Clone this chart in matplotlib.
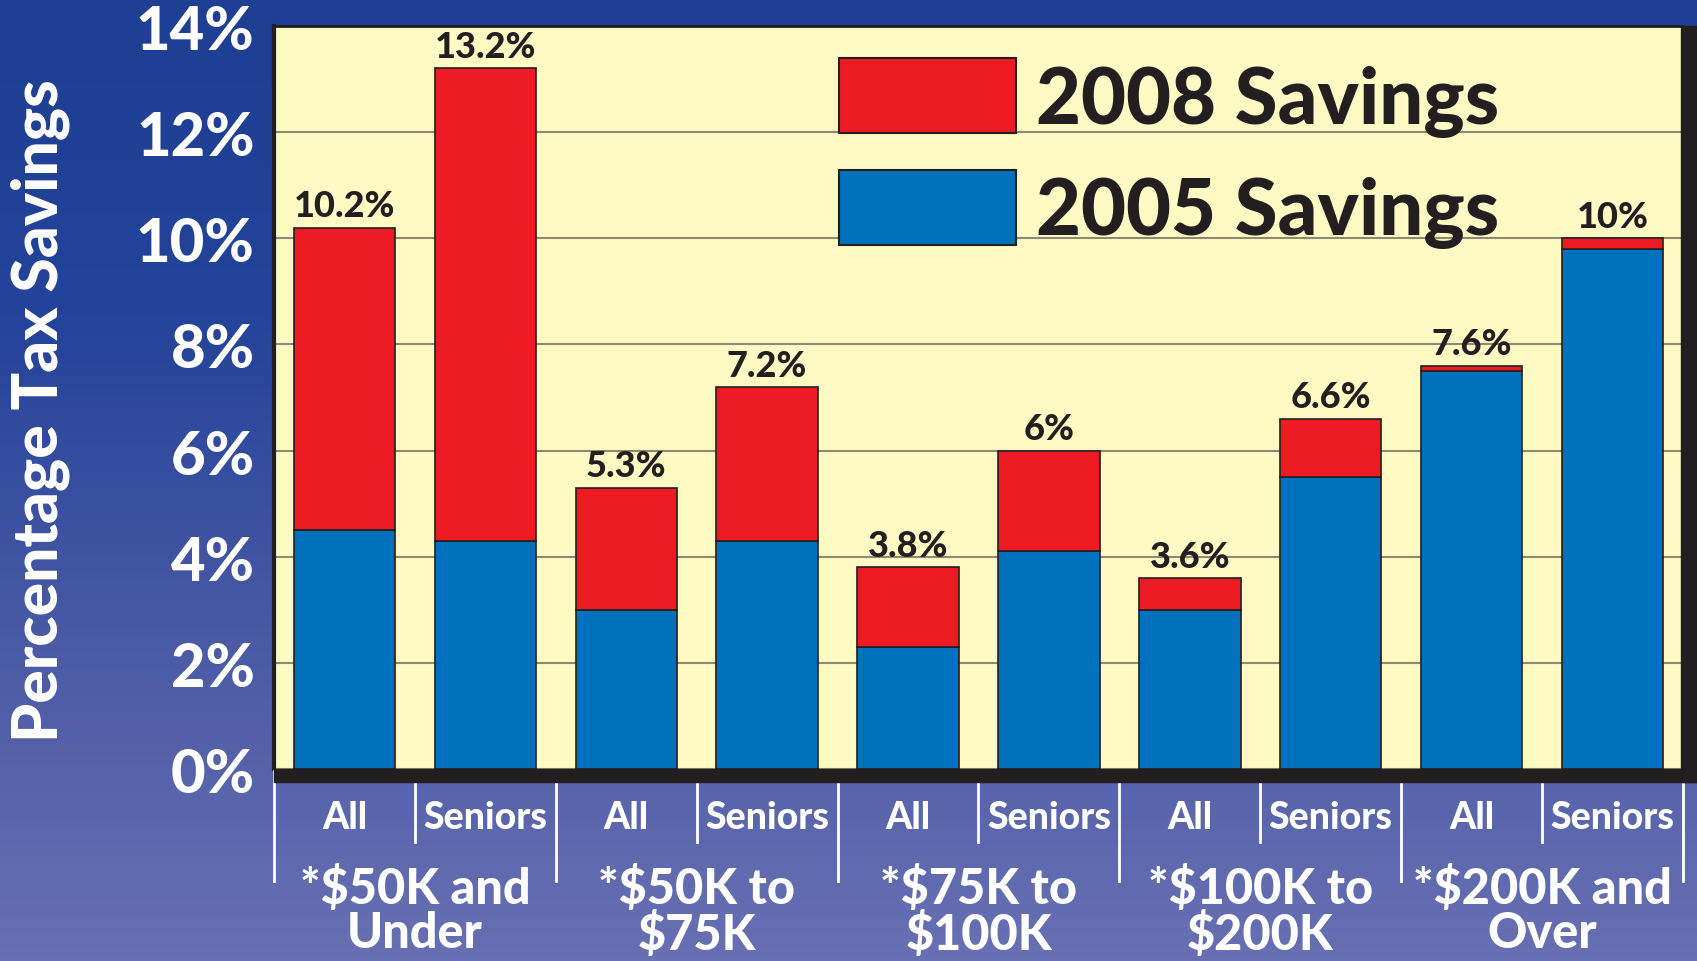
import numpy as np
import matplotlib.pyplot as plt
from matplotlib.colors import LinearSegmentedColormap
from matplotlib.patches import Rectangle

plt.rcParams['font.family'] = ['Lato', 'DejaVu Sans']
plt.rcParams['font.weight'] = 900

groups = ['*$50K and\nUnder', '*$50K to\n$75K', '*$75K to\n$100K',
          '*$100K to\n$200K', '*$200K and\nOver']
subgroups = ['All', 'Seniors'] * 5
savings_2005 = [4.5, 4.3, 3.0, 4.3, 2.3, 4.1, 3.0, 5.5, 7.5, 9.8]
total_2008 = [10.2, 13.2, 5.3, 7.2, 3.8, 6.0, 3.6, 6.6, 7.6, 10.0]
value_labels = ['10.2%', '13.2%', '5.3%', '7.2%', '3.8%', '6%', '3.6%', '6.6%', '7.6%', '10%']
yticks = [0, 2, 4, 6, 8, 10, 12, 14]

red = '#ED1C24'
blue = '#0071BC'
dark = '#231F20'
cream = '#FFF9C4'
W = 900  # font weight

fig = plt.figure(figsize=(16.97, 9.62), dpi=100)

# gradient background
bg = fig.add_axes([0, 0, 1, 1], zorder=-5)
cmap = LinearSegmentedColormap.from_list('bg', ['#1E3F94', '#24439A', '#4A5AA5', '#6870B3'])
bg.imshow(np.linspace(0, 1, 256).reshape(-1, 1), aspect='auto', cmap=cmap, extent=(0, 1, 0, 1))
bg.axis('off')

ax = fig.add_axes([0.1615, 0.1996, 0.8302, 0.7724])
ax.set_facecolor(cream)

x = np.arange(len(subgroups))
red_part = np.array(total_2008) - np.array(savings_2005)
ax.bar(x, savings_2005, width=0.72, color=blue, edgecolor=dark, linewidth=1.2, zorder=3)
ax.bar(x, red_part, bottom=savings_2005, width=0.72, color=red, edgecolor=dark, linewidth=1.2, zorder=3)

for xi, top, lab in zip(x, total_2008, value_labels):
    ax.text(xi, top + 0.1, lab, ha='center', va='bottom', fontsize=26,
            fontweight=W, color=dark, zorder=4)

ax.set_xlim(-0.5, len(x) - 0.5)
ax.set_ylim(0, 14)
ax.set_yticks(yticks)
ax.set_yticklabels([f'{t}%' for t in yticks], fontsize=43, color='white', fontweight=W)
ax.tick_params(axis='y', length=0, pad=14)
ax.set_xticks([])
ax.yaxis.grid(True, color='#8C8A70', linewidth=1.5, zorder=0)
ax.set_axisbelow(True)

for side in ['left', 'top']:
    ax.spines[side].set_color(dark)
ax.spines['left'].set_linewidth(3)
ax.spines['top'].set_linewidth(2)
ax.spines['right'].set_visible(False)
ax.spines['bottom'].set_visible(False)

# dark base band and right bar
fig.patches.append(Rectangle((274 / 1697, 1 - 783 / 962), 1 - 274 / 1697, 13 / 962,
                             transform=fig.transFigure, color=dark, zorder=2))
fig.patches.append(Rectangle((1681 / 1697, 1 - 783 / 962), 16 / 1697, (783 - 27) / 962,
                             transform=fig.transFigure, color=dark, zorder=2))

# legend
ax.add_patch(Rectangle((0.401, 0.856), 0.1256, 0.101, transform=ax.transAxes,
                       facecolor=red, edgecolor=dark, linewidth=1.5, zorder=5))
ax.add_patch(Rectangle((0.401, 0.705), 0.1256, 0.101, transform=ax.transAxes,
                       facecolor=blue, edgecolor=dark, linewidth=1.5, zorder=5))
ax.text(0.541, 0.899, '2008 Savings', transform=ax.transAxes, fontsize=56,
        fontweight=W, color=dark, va='center', ha='left', zorder=5)
ax.text(0.541, 0.749, '2005 Savings', transform=ax.transAxes, fontsize=56,
        fontweight=W, color=dark, va='center', ha='left', zorder=5)

# category labels and separators
trans = ax.get_xaxis_transform()
for xi, sub in zip(x, subgroups):
    ax.text(xi, -0.064, sub, transform=trans, ha='center', va='center', fontsize=27,
            fontweight=W, color='white', clip_on=False)
for b in np.arange(-0.5, len(x), 1.0):
    low = -0.151 if int(b + 0.5) % 2 == 0 else -0.098
    ax.plot([b, b], [-0.003, low], transform=trans, color='white', linewidth=2,
            clip_on=False, zorder=6)
for gi, g in enumerate(groups):
    ax.text(2 * gi + 0.5, -0.128, g, transform=trans, ha='center', va='top', fontsize=35,
            fontweight=W, color='white', linespacing=0.98, clip_on=False)

fig.text(0.024, 0.573, 'Percentage Tax Savings', rotation=90, ha='center', va='center',
         fontsize=45, fontweight=W, color='white')

fig.savefig('out.png', dpi=100)
